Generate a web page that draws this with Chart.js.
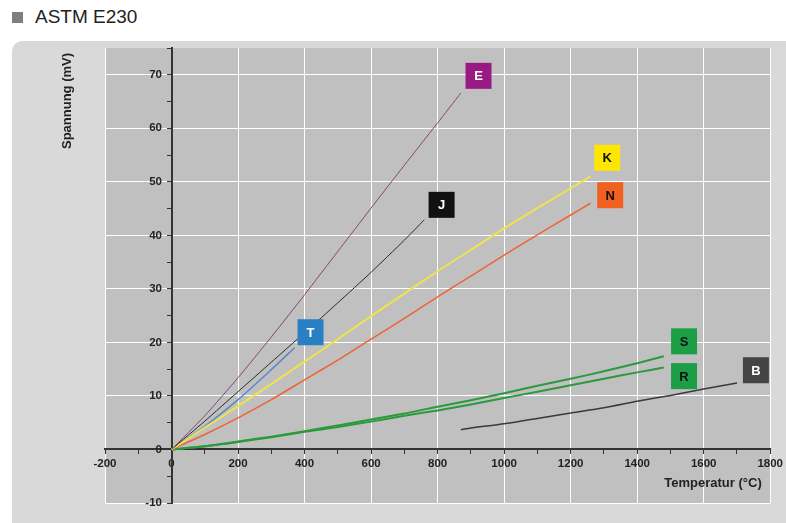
<!DOCTYPE html>
<html>
<head>
<meta charset="utf-8">
<script src="https://cdn.jsdelivr.net/npm/chart.js@4"></script>
<style>
    html, body { margin: 0; padding: 0; background: #fff; width: 786px; height: 523px; overflow: hidden; }
    #title { position: absolute; left: 12px; top: 6px; font: 19px "Liberation Sans", Arial, sans-serif; color: #222; }
    #title span { display: inline-block; width: 11px; height: 11px; background: #7f7f7f; margin-right: 12px; }
    #panel { position: absolute; left: 12px; top: 41px; width: 790px; height: 500px; background: #d9d9d9; border-radius: 10px; }
    #chart { position: absolute; left: 0; top: 0; }
</style>
</head>
<body>
<div id="title"><span></span>ASTM E230</div>
<div id="panel"></div>
<canvas id="chart" width="786" height="523"></canvas>
<script>
// Thermocouple curves, temperature (°C) and voltage (mV)
const tempE = [0, 100, 200, 300, 400, 500, 600, 700, 800, 870];
const voltE = [0, 6.3, 13.4, 21.0, 28.9, 37.0, 45.1, 53.1, 61.0, 66.6];
const tempJ = [0, 100, 200, 300, 400, 500, 600, 700, 760];
const voltJ = [0, 5.3, 10.8, 16.3, 21.8, 27.4, 33.1, 39.1, 42.9];
const tempK = [0, 100, 200, 300, 400, 500, 600, 700, 800, 900, 1000, 1100, 1200, 1260];
const voltK = [0, 4.1, 8.1, 12.2, 16.4, 20.6, 24.9, 29.1, 33.3, 37.3, 41.3, 45.1, 48.8, 51.0];
const tempN = [0, 100, 200, 300, 400, 500, 600, 700, 800, 900, 1000, 1100, 1200, 1260];
const voltN = [0, 2.8, 5.9, 9.3, 13.0, 16.7, 20.6, 24.5, 28.5, 32.4, 36.3, 40.1, 43.8, 46.0];
const tempT = [0, 100, 200, 300, 370];
const voltT = [0, 4.3, 9.3, 14.9, 19.0];
const tempS = [0, 100, 200, 300, 400, 500, 600, 700, 800, 900, 1000, 1100, 1200, 1300, 1400, 1480];
const voltS = [0, 0.6, 1.5, 2.4, 3.4, 4.5, 5.6, 6.7, 8.0, 9.2, 10.5, 11.9, 13.2, 14.6, 16.1, 17.4];
const tempR = [0, 100, 200, 300, 400, 500, 600, 700, 800, 900, 1000, 1100, 1200, 1300, 1400, 1480];
const voltR = [0, 0.6, 1.4, 2.3, 3.3, 4.2, 5.2, 6.3, 7.3, 8.4, 9.6, 10.8, 12.0, 13.2, 14.4, 15.3];
const tempB = [870, 900, 1000, 1100, 1200, 1300, 1400, 1500, 1600, 1700];
const voltB = [3.7, 4.0, 4.8, 5.8, 6.8, 7.8, 9.0, 10.1, 11.3, 12.4];

// Label tags: name and where the tag sits (°C, mV)
const tagNames = ['E', 'K', 'N', 'J', 'T', 'S', 'R', 'B'];
const tagTemps = [923, 1310, 1319, 812, 418, 1541, 1541, 1757];
const tagVolts = [69.8, 54.5, 47.5, 45.7, 21.9, 20.2, 13.7, 14.8];

const tagStyle = {
    E: { bg: '#9a1a84', fg: '#fff' },
    K: { bg: '#ffe600', fg: '#111' },
    N: { bg: '#f0601e', fg: '#111' },
    J: { bg: '#111111', fg: '#fff' },
    T: { bg: '#2a7ec2', fg: '#fff' },
    S: { bg: '#1b9e45', fg: '#111' },
    R: { bg: '#1b9e45', fg: '#111' },
    B: { bg: '#444444', fg: '#fff' }
};

function series(label, temps, volts, color, width) {
    return {
        label: label,
        data: temps.map((t, i) => ({ x: t, y: volts[i] })),
        borderColor: color,
        borderWidth: width,
        pointRadius: 0,
        fill: false,
        tension: 0.2
    };
}

const plotBackground = {
    id: 'plotBackground',
    beforeDraw(chart) {
        const { ctx, chartArea: a } = chart;
        ctx.save();
        ctx.fillStyle = '#c0c0c0';
        ctx.fillRect(a.left, a.top, a.right - a.left, a.bottom - a.top);
        ctx.restore();
    }
};

const tagsAndTitles = {
    id: 'tagsAndTitles',
    afterDraw(chart) {
        const ctx = chart.ctx;
        const xs = chart.scales.x, ys = chart.scales.y;
        ctx.save();
        tagNames.forEach((name, i) => {
            const px = xs.getPixelForValue(tagTemps[i]);
            const py = ys.getPixelForValue(tagVolts[i]);
            const st = tagStyle[name];
            ctx.fillStyle = st.bg;
            ctx.fillRect(px - 13, py - 13, 26, 26);
            ctx.fillStyle = st.fg;
            ctx.font = 'bold 13px "Liberation Sans", Arial, sans-serif';
            ctx.textAlign = 'center';
            ctx.textBaseline = 'middle';
            ctx.fillText(name, px, py + 1);
        });

        ctx.fillStyle = '#222';
        ctx.font = 'bold 13px "Liberation Sans", Arial, sans-serif';
        ctx.textAlign = 'center';
        ctx.textBaseline = 'middle';
        ctx.fillText('Temperatur (°C)', 713, 483);

        ctx.translate(67, 101);
        ctx.rotate(-Math.PI / 2);
        ctx.fillText('Spannung (mV)', 0, 0);
        ctx.restore();
    }
};

new Chart(document.getElementById('chart').getContext('2d'), {
    type: 'line',
    data: {
        datasets: [
            series('E', tempE, voltE, '#8a4568', 1),
            series('J', tempJ, voltJ, '#2a2a2a', 1),
            series('K', tempK, voltK, '#efe24c', 2),
            series('N', tempN, voltN, '#ee6434', 1.5),
            series('T', tempT, voltT, '#5a88c4', 1.5),
            series('S', tempS, voltS, '#2a9a3c', 2),
            series('R', tempR, voltR, '#2a9a3c', 2),
            series('B', tempB, voltB, '#3a3a3a', 1.5)
        ]
    },
    options: {
        responsive: false,
        animation: false,
        layout: { padding: { left: 105, top: 48, right: 15, bottom: 20 } },
        plugins: { legend: { display: false }, tooltip: { enabled: false } },
        scales: {
            x: {
                type: 'linear',
                min: -200,
                max: 1800,
                position: { y: 0 },
                border: { color: '#333', width: 2 },
                grid: {
                    color: c => (c.tick && c.tick.value % 200 === 0) ? '#ffffff' : 'rgba(0,0,0,0)',
                    tickColor: '#333',
                    tickLength: 4
                },
                ticks: {
                    stepSize: 100,
                    autoSkip: false,
                    maxRotation: 0,
                    padding: 3,
                    color: '#222',
                    font: { family: '"Liberation Sans", Arial, sans-serif', size: 11.5, weight: 'bold' },
                    callback: v => v % 200 === 0 ? v : ''
                }
            },
            y: {
                type: 'linear',
                min: -10,
                max: 75,
                position: { x: 0 },
                border: { color: '#333', width: 2 },
                grid: {
                    color: c => (c.tick && c.tick.value % 10 === 0) ? '#ffffff' : 'rgba(0,0,0,0)',
                    tickColor: '#333',
                    tickLength: 4
                },
                ticks: {
                    stepSize: 5,
                    autoSkip: false,
                    color: '#222',
                    font: { family: '"Liberation Sans", Arial, sans-serif', size: 11.5, weight: 'bold' },
                    // trailing spaces push the labels off the axis (padding is ignored for a positioned axis)
                    callback: v => v % 10 === 0 ? v + '   ' : ''
                }
            }
        }
    },
    plugins: [plotBackground, tagsAndTitles]
});
</script>
</body>
</html>
